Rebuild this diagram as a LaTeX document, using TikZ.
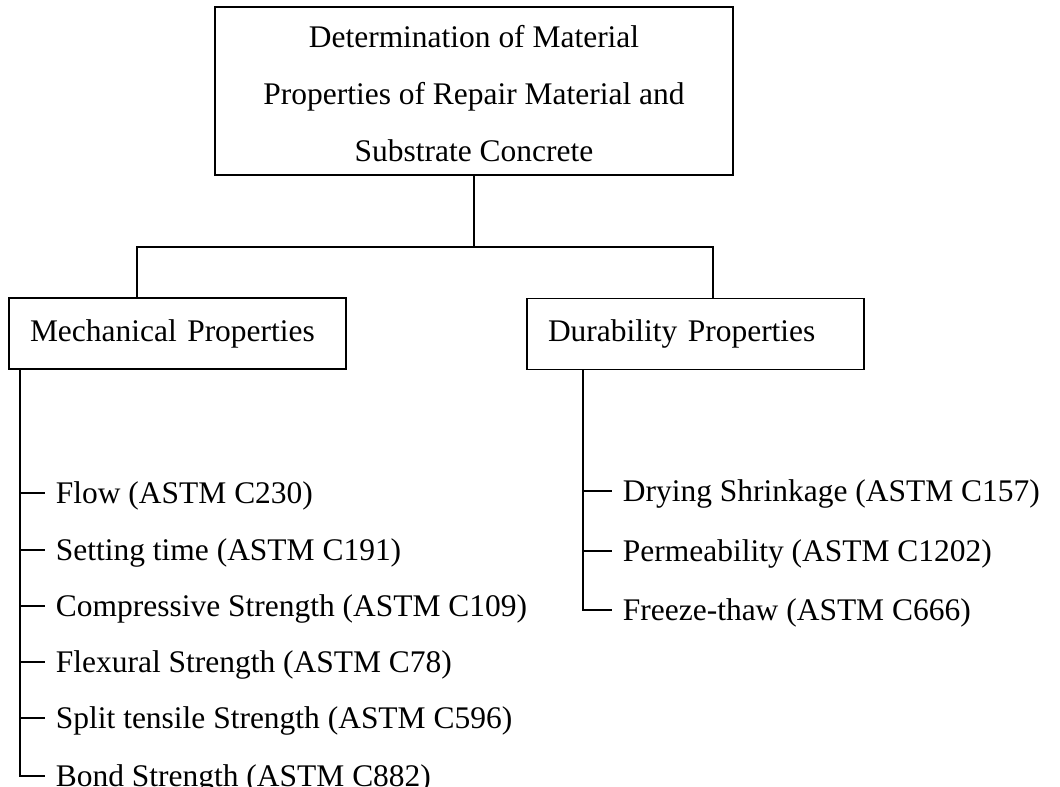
\documentclass[tikz,border=0pt]{standalone}
\usepackage{fontspec}
\setmainfont{Liberation Serif}
\begin{document}
\begin{tikzpicture}[x=0.75pt, y=-0.75pt, line width=1.4pt,
  every node/.style={font=\fontsize{23.6pt}{42.75pt}\selectfont},
  headbox/.style={draw, align=center, minimum width=388.5pt, minimum height=126pt,
    inner sep=0pt, text height=106.5pt, text depth=0pt},
  groupbox/.style={draw, align=left, text width=221.25pt, inner xsep=15.75pt,
    inner ysep=0pt, minimum height=53.25pt},
  item/.style={anchor=west, inner xsep=7.5pt, inner ysep=0pt,
    text height=15.6pt, text depth=0pt},
]
\useasboundingbox (0,0) rectangle (1060,787);

% heading and the two groups
\node[headbox] (top) at (474,91)
  {Determination of Material\\Properties of Repair Material and\\Substrate Concrete};
\node[groupbox] (mech) at (177.5,333.5) {Mechanical Properties};
\node[groupbox] (dur) at (695.5,334) {Durability Properties};

% branch from heading to groups
\coordinate (lbr) at (137,247);
\coordinate (rbr) at (713,247);
\draw (top.south) -- (top.south |- lbr);
\draw (mech.north -| lbr) -- (lbr) -- (rbr) -- (dur.north -| rbr);

% mechanical tests
\coordinate (ls) at (20,0);
\node[item] (m1) at (45,493) {Flow (ASTM C230)};
\node[item] (m2) at (45,550) {Setting time (ASTM C191)};
\node[item] (m3) at (45,606) {Compressive Strength (ASTM C109)};
\node[item] (m4) at (45,662) {Flexural Strength (ASTM C78)};
\node[item] (m5) at (45,718) {Split tensile Strength (ASTM C596)};
\node[item] (m6) at (45,776) {Bond Strength (ASTM C882)};
\draw (mech.south -| ls) -- (m6.west -| ls) -- (m6.west);
\foreach \n in {m1,m2,m3,m4,m5}
  \draw (\n.west -| ls) -- (\n.west);

% durability tests
\coordinate (rs) at (583,0);
\node[item] (d1) at (612,491) {Drying Shrinkage (ASTM C157)};
\node[item] (d2) at (612,551) {Permeability (ASTM C1202)};
\node[item] (d3) at (612,610) {Freeze-thaw (ASTM C666)};
\draw (dur.south -| rs) -- (d3.west -| rs) -- (d3.west);
\foreach \n in {d1,d2}
  \draw (\n.west -| rs) -- (\n.west);
\end{tikzpicture}
\end{document}
